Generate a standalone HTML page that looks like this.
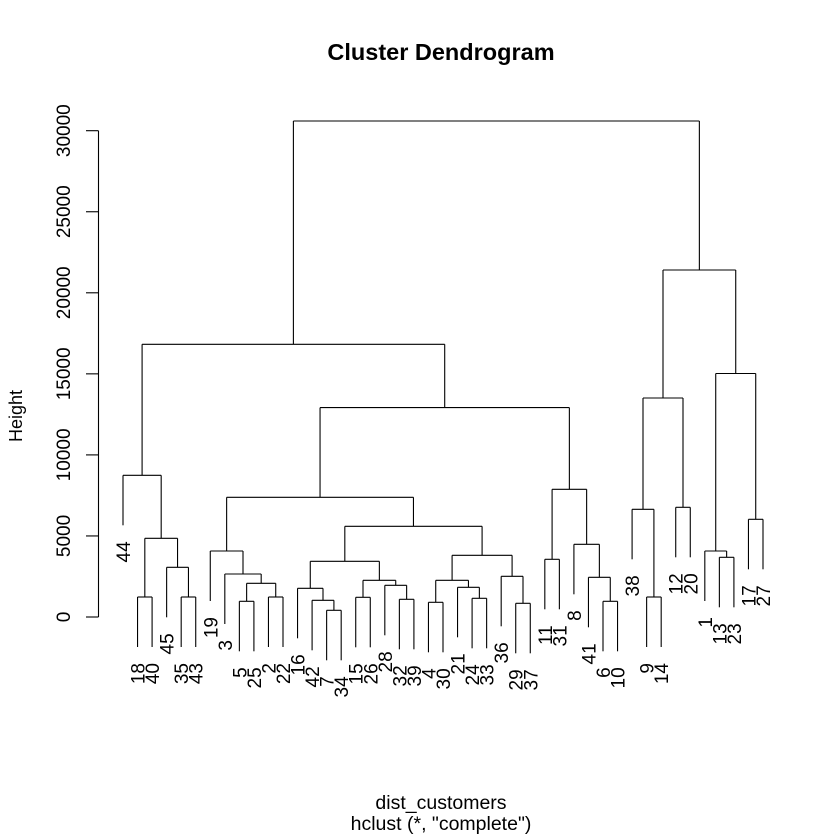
<!DOCTYPE html>
<html><head><meta charset="utf-8">
<style>
html,body{margin:0;padding:0;background:#fff;}
svg{display:block;}
text{font-family:"Liberation Sans",Arial,sans-serif;fill:#000;}
</style></head>
<body>
<svg id="s" width="840" height="840" xmlns="http://www.w3.org/2000/svg">
<rect width="840" height="840" fill="#fff"/>
<text x="441" y="60" font-size="23.5" font-weight="bold" text-anchor="middle">Cluster Dendrogram</text>
<text x="441" y="809" font-size="19.5" text-anchor="middle">dist_customers</text>
<text x="441" y="830" font-size="19.5" text-anchor="middle">hclust (*, "complete")</text>
<text transform="translate(22,416) rotate(-90)" font-size="18" text-anchor="middle">Height</text>
<g id="g" stroke="#000" stroke-width="1.1" fill="none"></g>
<g id="t" font-size="19"></g>
</svg>
<script>
var NS="http://www.w3.org/2000/svg";
var g=document.getElementById('g'),t=document.getElementById('t');
function line(x1,y1,x2,y2){var l=document.createElementNS(NS,'line');l.setAttribute('x1',x1);l.setAttribute('y1',y1);l.setAttribute('x2',x2);l.setAttribute('y2',y2);g.appendChild(l);}
function txt(x,y,s,rot,anchor){var e=document.createElementNS(NS,'text');e.setAttribute('transform','translate('+x+','+y+') rotate('+rot+')');e.setAttribute('text-anchor',anchor);e.textContent=s;t.appendChild(e);}
line(98.5,617,98.5,130.7);
function yv(h){return 617-h*(617-130.7)/30000;}
for(var h=0;h<=30000;h+=5000){var y=yv(h);line(86,y,98.5,y);txt(70,y,String(h),-90,'middle');}
var idx=0,step=(763-123)/44;
function L(s){return {leaf:s};}
function N(y,a,b){return {y:y,a:a,b:b};}
var tree=N(121,
 N(344.3,
   N(475.3,L('44'),
     N(538.3,N(597,L('18'),L('40')),N(567.3,L('45'),N(597,L('35'),L('43'))))),
   N(407.6,
     N(497.3,
       N(551,L('19'),N(574,L('3'),N(583.3,N(601.3,L('5'),L('25')),N(597,L('2'),L('22'))))),
       N(526.3,
         N(561.3,
           N(588.3,L('16'),N(600.3,L('42'),N(610.3,L('7'),L('34')))),
           N(580.3,N(597.3,L('15'),L('26')),N(585.3,L('28'),N(599.3,L('32'),L('39'))))),
         N(555.3,
           N(580.3,N(602.3,L('4'),L('30')),N(587.3,L('21'),N(598.3,L('24'),L('33')))),
           N(576.3,L('36'),N(603.3,L('29'),L('37')))))),
     N(489.3,N(559.3,L('11'),L('31')),N(544.3,L('8'),N(577.3,L('41'),N(601.3,L('6'),L('10'))))))),
 N(270,
   N(398,N(509.3,L('38'),N(597,L('9'),L('14'))),N(507.3,L('12'),L('20'))),
   N(373.5,N(551,L('1'),N(557.3,L('13'),L('23'))),N(519.3,L('17'),L('27')))));
var hang=50;
function draw(n,parentY){
 if(n.leaf){var x=123+idx*step;idx++;var b=parentY+hang;line(x,parentY,x,b);txt(x+7,b+16,n.leaf,-90,'end');return x;}
 var xa=draw(n.a,n.y),xb=draw(n.b,n.y);
 line(xa,n.y,xb,n.y);
 var xm=(xa+xb)/2;
 if(parentY!==null)line(xm,parentY,xm,n.y);
 return xm;
}
draw(tree,null);
</script>
</body></html>
